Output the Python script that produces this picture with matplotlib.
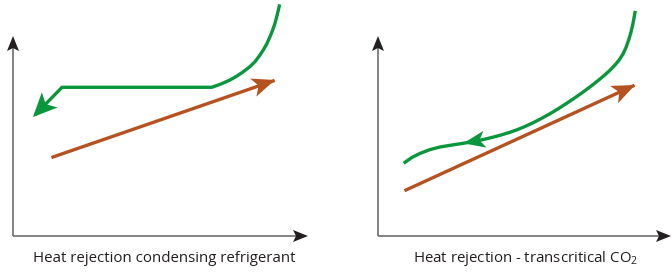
import numpy as np
import matplotlib
matplotlib.use('Agg')
import matplotlib.pyplot as plt
from matplotlib.patches import Polygon

# Diagram drawn in pixel coordinates of the 672x272 picture (y grows downward)
# Left panel: condensing refrigerant
left_axis_origin = (13, 236)
left_axis_top = 36
left_axis_right = 308
left_green_x = [279.3, 277.3, 275, 272.7, 270, 267, 263.3, 259.3, 255, 249.5, 243.3, 237,
                230, 221, 211.7, 62, 36]
left_green_y = [6, 14.5, 23.3, 30, 36.7, 43.5, 50, 56, 61.7, 67, 71.7, 76,
                80, 84, 87.3, 87.3, 114]
left_brown_x = [53, 273]
left_brown_y = [157, 81]
left_label = "Heat rejection condensing refrigerant"

# Right panel: transcritical CO2
right_axis_origin = (378, 236)
right_axis_top = 36
right_axis_right = 671
right_green_x = [635, 633, 631, 629, 626, 623, 619, 615, 610, 605, 600, 594, 588, 582,
                 575, 567, 558, 550, 541, 533, 525, 517, 509, 500, 491, 482, 473, 463.3,
                 452, 440, 430, 420, 412, 405]
right_green_y = [12.5, 23.5, 32, 39, 47.5, 54, 60.2, 65, 70.2, 74.8, 79, 83.8, 88.4, 92.8,
                 97.7, 103.1, 108.9, 113.7, 118.7, 122.8, 126.5, 129.8, 132.6, 135.3, 137.7,
                 139.8, 141.6, 143.3, 145, 147, 149.6, 153.4, 157.4, 162.3]
right_green_arrow_at = 27  # index of the point where the arrowhead sits
right_brown_x = [406, 633]
right_brown_y = [190, 86]
right_label = "Heat rejection - transcritical CO$_2$"

GREEN = '#0a963c'
BROWN = '#b5521f'
AXIS = '#6d6e70'
HEAD = '#231f20'

plt.rcParams['font.family'] = ['Open Sans', 'DejaVu Sans']
plt.rcParams['mathtext.fontset'] = 'custom'
plt.rcParams['mathtext.rm'] = 'Open Sans'
plt.rcParams['mathtext.default'] = 'regular'


def stealth(ax, tip, frm, length, width, color, notch=0.75):
    """Filled notched arrowhead with its tip at `tip`, pointing away from `frm`."""
    tip = np.array(tip, float)
    d = tip - np.array(frm, float)
    d /= np.hypot(*d)
    n = np.array([-d[1], d[0]])
    back = tip - d * length
    mid = tip - d * length * notch
    pts = [tip, back + n * width / 2, mid, back - n * width / 2]
    ax.add_patch(Polygon(pts, closed=True, color=color, lw=0, zorder=5))


def draw_axes(ax, origin, top, right):
    x0, y0 = origin
    ax.plot([x0, x0], [y0, top + 8], color=AXIS, lw=1.2, solid_capstyle='butt')
    ax.plot([x0, right - 8], [y0, y0], color=AXIS, lw=1.2, solid_capstyle='butt')
    stealth(ax, (x0, top), (x0, y0), 15, 12, HEAD, 0.8)
    stealth(ax, (right, y0), (x0, y0), 15, 12, HEAD, 0.8)


fig = plt.figure(figsize=(6.72, 2.72), dpi=100)
ax = fig.add_axes([0, 0, 1, 1])
ax.set_xlim(0, 672)
ax.set_ylim(272, 0)
ax.axis('off')

# left panel
draw_axes(ax, left_axis_origin, left_axis_top, left_axis_right)
ax.plot(left_green_x, left_green_y, color=GREEN, lw=2.4, solid_joinstyle='miter')
stealth(ax, (left_green_x[-1] - 3, left_green_y[-1] + 3),
        (left_green_x[-2], left_green_y[-2]), 24, 22, GREEN)
ax.plot(left_brown_x, left_brown_y, color=BROWN, lw=2.4)
stealth(ax, (left_brown_x[-1] + 2, left_brown_y[-1] - 1),
        (left_brown_x[0], left_brown_y[0]), 23, 19, BROWN)
ax.text(164, 259, left_label, ha='center', va='center', fontsize=10.8, color='#231f20')

# right panel
draw_axes(ax, right_axis_origin, right_axis_top, right_axis_right)
ax.plot(right_green_x, right_green_y, color=GREEN, lw=2.4, solid_joinstyle='round')
i = right_green_arrow_at
stealth(ax, (right_green_x[i], right_green_y[i]),
        (right_green_x[i - 2], right_green_y[i - 2]), 22, 17, GREEN)
ax.plot(right_brown_x, right_brown_y, color=BROWN, lw=2.4)
stealth(ax, (right_brown_x[-1] + 2, right_brown_y[-1] - 1),
        (right_brown_x[0], right_brown_y[0]), 23, 19, BROWN)
ax.text(526, 259, right_label, ha='center', va='center', fontsize=10.8, color='#231f20')

fig.savefig('out.png', dpi=100)
